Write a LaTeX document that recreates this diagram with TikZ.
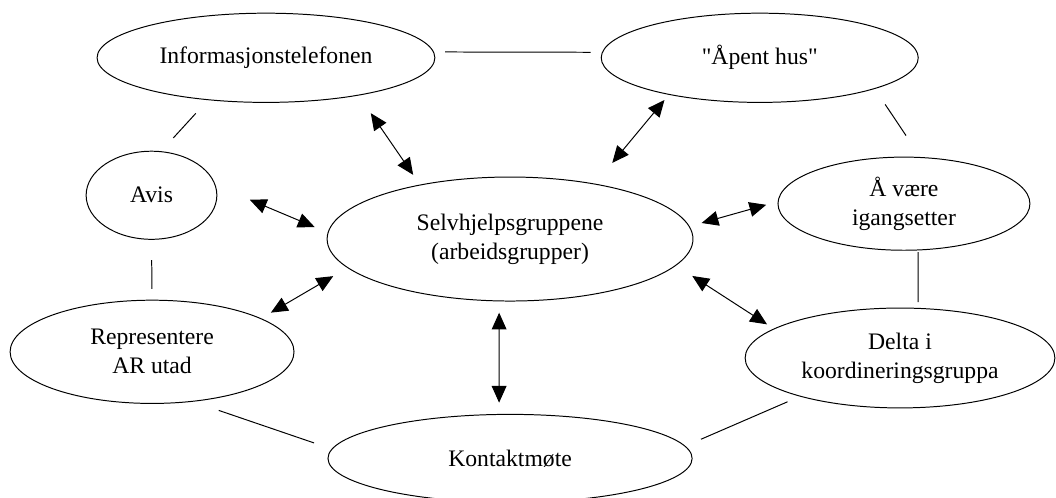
\documentclass[tikz,border=0pt]{standalone}
\usepackage{fontspec}
\setmainfont{Liberation Serif}[Ligatures=TeXOff]
\usetikzlibrary{arrows.meta,shapes.geometric}

\begin{document}
\begin{tikzpicture}[line width=0.5pt, main node/.style={ellipse,draw,inner sep=0pt,outer sep=0pt,align=center},
  both/.style={{Triangle[length=8.5pt,width=7.5pt]}-{Triangle[length=8.5pt,width=7.5pt]}}]
\useasboundingbox (0,0) rectangle (18.82,8.86);
\begin{scope}[every node/.style={font=\fontsize{12}{14.7}\selectfont}]
\node[main node,minimum width=6.02cm,minimum height=1.59cm] (Info) at (4.74,7.83) {Informasjonstelefonen};
\node[main node,minimum width=5.65cm,minimum height=1.59cm] (Hus) at (13.54,7.83) {"Åpent hus"};
\node[main node,minimum width=2.33cm,minimum height=1.57cm] (Avis) at (2.70,5.38) {Avis};
\node[main node,minimum width=6.52cm,minimum height=2.21cm] (Selv) at (9.09,4.60) {Selvhjelpsgruppene\\(arbeidsgrupper)};
\node[main node,minimum width=4.49cm,minimum height=1.66cm] (Igang) at (16.11,5.23) {Å være\\igangsetter};
\node[main node,minimum width=5.06cm,minimum height=1.84cm] (Repr) at (2.71,2.59) {Representere\\AR utad};
\node[main node,minimum width=5.52cm,minimum height=1.78cm] (Delta) at (16.04,2.48) {Delta i\\koordineringsgruppa};
\node[main node,minimum width=6.49cm,minimum height=1.57cm] (Kontakt) at (9.09,0.69) {Kontaktmøte};
\end{scope}
\begin{scope}
% plain links round the ring
\draw[shorten <=0.21cm,shorten >=0.21cm] (Info.2) -- (Hus.178);
\draw[shorten <=0.33cm,shorten >=0.33cm] (Info.216) -- (Avis.78);
\draw[shorten <=0.37cm,shorten >=0.20cm] (Avis.south) -- (Repr.north);
\draw[shorten <=0.34cm,shorten >=0.47cm] (Hus.345) -- (Igang.70);
\draw[shorten <=0.04cm,shorten >=0.11cm] (Igang.287) -- (Delta.70);
\draw[shorten <=0.50cm,shorten >=0.34cm] (Repr.309) -- (Kontakt.177);
\draw[shorten <=0.31cm,shorten >=0.25cm] (Kontakt.4) -- (Delta.201);
% arrows to the groups
\draw[both,shorten <=0.39cm,shorten >=0.22cm] (Info.338) -- (Selv.149);
\draw[both,shorten <=0.13cm,shorten >=0.49cm] (Hus.202) -- (Selv.33);
\draw[both,shorten <=0.67cm,shorten >=0.26cm] (Avis.9) -- (Selv.178);
\draw[both,shorten <=0.23cm,shorten >=0.22cm] (Selv.4) -- (Igang.179);
\draw[both,shorten <=0.21cm,shorten >=0.30cm] (Repr.17) -- (Selv.190);
\draw[both,shorten <=0.21cm,shorten >=0.21cm] (Selv.260) -- (Kontakt.104);
\draw[both,shorten <=0.35cm,shorten >=0.15cm] (Selv.351) -- (Delta.167);
\end{scope}
\end{tikzpicture}
\end{document}
